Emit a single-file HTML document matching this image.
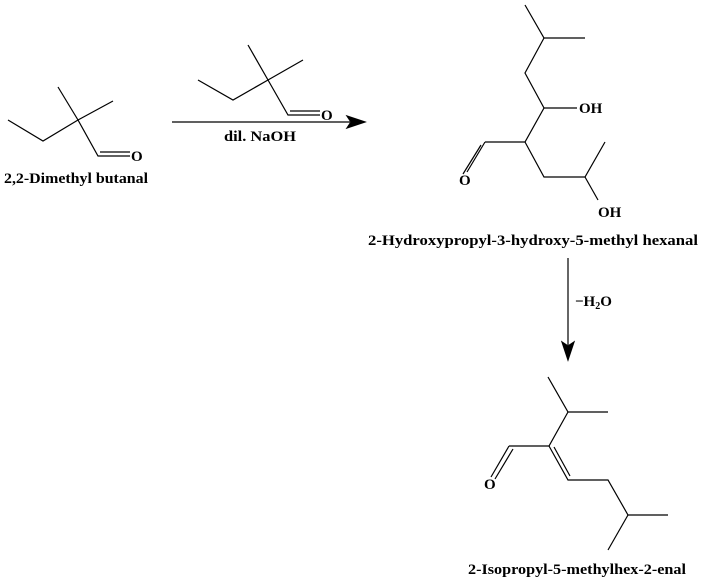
<!DOCTYPE html>
<html><head><style>body{margin:0;background:#fff}svg{display:block}text{font-family:"Liberation Serif",serif;font-weight:bold;font-size:15px;fill:#000}</style></head>
<body><svg width="703" height="581" viewBox="0 0 703 581" stroke="#000" stroke-width="1.2" fill="none">
<!-- mol 1 -->
<polyline points="8,120 43,141 78,120 113,101"/>
<line x1="78" y1="120" x2="58" y2="87"/>
<polyline points="78,120 98,156 130,156"/>
<line x1="100" y1="152" x2="130" y2="152"/>
<text x="131" y="161" stroke="none">O</text>
<text x="4" y="183" stroke="none" textLength="144" lengthAdjust="spacingAndGlyphs">2,2-Dimethyl butanal</text>
<!-- mol 2 -->
<polyline points="198,80 233,100 268,80 303,60"/>
<line x1="268" y1="80" x2="248" y2="45"/>
<polyline points="268,80 288,115 320,115"/>
<line x1="290" y1="111" x2="320" y2="111"/>
<text x="321" y="120" stroke="none">O</text>
<line x1="172" y1="122" x2="350" y2="122"/>
<polygon points="365,122 347,116 351,122 347,128" fill="#000"/>
<text x="224" y="141" stroke="none" textLength="72" lengthAdjust="spacingAndGlyphs">dil. NaOH</text>
<!-- mol 3 -->
<polyline points="525,5 544,38 585,38"/>
<polyline points="544,38 525,73 544,108 525,142 485,142"/>
<line x1="544" y1="108" x2="577" y2="108"/>
<text x="579" y="113" stroke="none">OH</text>
<line x1="485" y1="142" x2="467" y2="172"/>
<line x1="481" y1="145" x2="463" y2="174"/>
<text x="459" y="185" stroke="none">O</text>
<polyline points="525,142 544,177 585,177 605,142"/>
<line x1="585" y1="177" x2="598" y2="200"/>
<text x="598" y="217" stroke="none">OH</text>
<text x="368" y="245" stroke="none" textLength="330" lengthAdjust="spacingAndGlyphs">2-Hydroxypropyl-3-hydroxy-5-methyl hexanal</text>
<line x1="568" y1="258" x2="568" y2="345"/>
<polygon points="568,360 562,342 568,346 574,342" fill="#000"/>
<text x="575" y="306" stroke="none">−H<tspan font-size="10" dy="3">2</tspan><tspan dy="-3">O</tspan></text>
<!-- mol 4 -->
<polyline points="548,377 568,412 608,412"/>
<polyline points="568,412 549,446 509,446"/>
<line x1="509" y1="446" x2="491" y2="477"/>
<line x1="513" y1="449" x2="495" y2="479"/>
<text x="484" y="489" stroke="none">O</text>
<polyline points="549,446 568,480 608,480 628,515 668,515"/>
<line x1="554" y1="447" x2="570" y2="476"/>
<line x1="628" y1="515" x2="608" y2="550"/>
<text x="468" y="574" stroke="none" textLength="218" lengthAdjust="spacingAndGlyphs">2-Isopropyl-5-methylhex-2-enal</text>
</svg></body></html>
